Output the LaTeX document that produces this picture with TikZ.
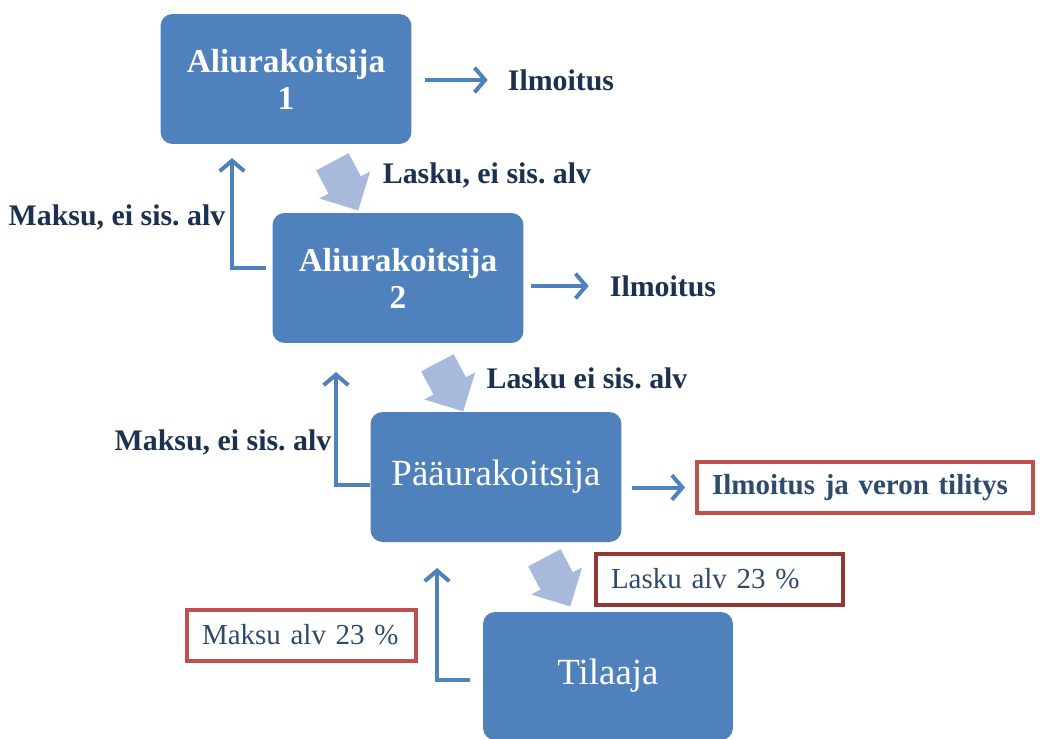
\documentclass[tikz,border=0pt]{standalone}
\usepackage{fontspec}
\setmainfont{Liberation Serif}
\usepackage{tikz}
\usetikzlibrary{arrows.meta,shapes,positioning}
\frenchspacing

\definecolor{boxblue}{HTML}{4F81BD}
\definecolor{paleblue}{HTML}{A7BADB}
\definecolor{inkblue}{HTML}{1C3150}
\definecolor{noteink}{HTML}{2F4B6B}
\definecolor{notered}{HTML}{C0504D}
\definecolor{darkred}{HTML}{943634}

\tikzset{
  party/.style={fill=boxblue, rounded corners=0.24cm, text=white, align=center,
    minimum width=5.02cm, minimum height=2.6cm, inner sep=0pt},
  partybold/.style={party, font=\fontsize{19}{21}\selectfont\bfseries},
  partyplain/.style={party, font=\fontsize{21}{24}\selectfont},
  label/.style={text=inkblue, font=\fontsize{17}{20}\selectfont\bfseries},
  notebox/.style={draw=notered, line width=0.08cm, fill=white, text=noteink,
    align=left, inner xsep=0.3cm, minimum height=1.02cm,
    font=\fontsize{16.5}{20}\selectfont},
  flow/.style={draw=boxblue, line width=0.08cm,
    -{Straight Barb[length=6pt,width=14pt]}},
  invoice/.style={single arrow, fill=paleblue, rotate=-62, inner sep=0.36cm,
    minimum height=0.96cm, single arrow head extend=0.21cm}
}

\begin{document}
\begin{tikzpicture}[x=0.02cm, y=-0.02cm]
        \clip (0,0) rectangle (1040,738);

        % chain of contractors
        \node[partybold] (a1) at (286,79) {Aliurakoitsija\\1};
        \node[partybold] (a2) at (398,278) {Aliurakoitsija\\2};
        \node[partyplain] (p) at (496,477) {Pääurakoitsija};
        \node[partyplain, minimum width=5cm, minimum height=2.56cm] (t) at (608,676) {Tilaaja};

        % invoices
        \node[invoice] (b1) at (341,178) {};
        \node[invoice] (b2) at (446,379) {};
        \node[invoice] (b3) at (553,574) {};

        \node[label] (lasku1) at (487,175) {Lasku, ei sis. alv};
        \node[label] (lasku2) at (587,378) {Lasku ei sis. alv};
        \node[notebox, draw=darkred, text width=4.34cm] (lasku3) at (719.5,579) {\mbox{Lasku alv 23 \%}};

        % payments
        \coordinate (up1) at (232,158);
        \coordinate (up2) at (336,372);
        \coordinate (up3) at (437,568);

        \node[label] (maksu1) at (117,217) {Maksu, ei sis. alv};
        \node[label] (maksu2) at (223,442) {Maksu, ei sis. alv};
        \node[notebox, text width=3.98cm] (maksu3) at (301.5,635) {\mbox{Maksu alv 23 \%}};

        \draw[flow, shorten <=0.12cm] ([yshift=0.2cm]a2.west) -| (up1);
        \draw[flow] ([yshift=-0.16cm]p.west) -| (up2);
        \draw[flow, shorten <=0.26cm] ([yshift=-0.08cm]t.west) -| (up3);

        % reports
        \node[label] (il1) at (561,80) {Ilmoitus};
        \node[label] (il2) at (663,286) {Ilmoitus};
        \node[notebox, text width=6.12cm, font=\fontsize{16.5}{20}\selectfont\bfseries] (il3) at (865,487.5) {\mbox{Ilmoitus ja veron tilitys}};

        \draw[flow, shorten <=0.26cm, shorten >=0.28cm] (a1.east |- il1.west) -- (il1.west);
        \draw[flow, shorten <=0.14cm, shorten >=0.3cm] (a2.east |- il2.west) -- (il2.west);
        \draw[flow, shorten <=0.2cm, shorten >=0.2cm] (p.east |- il3.west) -- (il3.west);
\end{tikzpicture}
\end{document}
